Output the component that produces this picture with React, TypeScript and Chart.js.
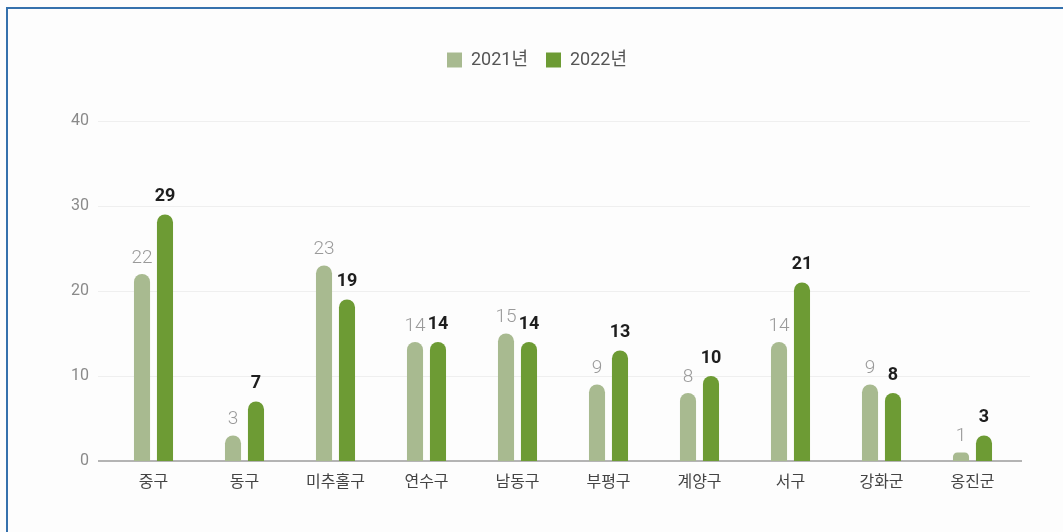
import React, { useEffect, useRef } from 'react';
import { Chart, registerables } from 'chart.js';

Chart.register(...registerables);

const categories = ['중구', '동구', '미추홀구', '연수구', '남동구', '부평구', '계양구', '서구', '강화군', '옹진군'];
const values2021 = [22, 3, 23, 14, 15, 9, 8, 14, 9, 1];
const values2022 = [29, 7, 19, 14, 14, 13, 10, 21, 8, 3];
const seriesLabels = ['2021년', '2022년'];
const yMin = 0;
const yMax = 40;
const yStep = 10;

const COLOR_2021 = '#a8ba90';
const COLOR_2022 = '#6d9b34';
const NUM_FONT = "Roboto, 'Noto Sans CJK KR', sans-serif";
const KR_FONT = "'Noto Sans CJK KR', Roboto, sans-serif";

const gridPlugin = {
  id: 'customGrid',
  beforeDatasetsDraw(chart: any) {
    const { ctx, chartArea, scales } = chart;
    const y = scales.y;
    ctx.save();
    y.ticks.forEach((t: any) => {
      const py = Math.round(y.getPixelForValue(t.value));
      if (t.value === 0) {
        ctx.strokeStyle = '#b4b4b4';
        ctx.lineWidth = 2;
        ctx.beginPath();
        ctx.moveTo(chartArea.left - 10, py);
        ctx.lineTo(chartArea.right + 4, py);
        ctx.stroke();
      } else {
        ctx.strokeStyle = '#efefef';
        ctx.lineWidth = 1;
        ctx.beginPath();
        ctx.moveTo(chartArea.left - 10, py + 0.5);
        ctx.lineTo(chartArea.right + 12, py + 0.5);
        ctx.stroke();
      }
    });
    ctx.restore();
  },
};

const labelPlugin = {
  id: 'valueLabels',
  afterDatasetsDraw(chart: any) {
    const { ctx } = chart;
    ctx.save();
    ctx.textAlign = 'center';
    ctx.textBaseline = 'middle';
    chart.data.datasets.forEach((ds: any, di: number) => {
      const meta = chart.getDatasetMeta(di);
      meta.data.forEach((el: any, i: number) => {
        const v = ds.data[i];
        if (di === 0) {
          ctx.font = `300 19px ${NUM_FONT}`;
          ctx.fillStyle = '#9a9a9a';
          ctx.fillText(String(v), el.x, el.y - 16);
        } else {
          ctx.font = `700 18px ${NUM_FONT}`;
          ctx.fillStyle = '#1e1e1e';
          ctx.fillText(String(v), el.x, el.y - 18);
        }
      });
    });
    ctx.restore();
  },
};

const legendPlugin = {
  id: 'legendTweak',
  afterInit(chart: any) {
    const lg = chart.legend;
    if (!lg) return;
    const orig = lg.fit.bind(lg);
    lg.fit = function () {
      orig();
      this.height = 88;
    };
  },
  afterLayout(chart: any) {
    const lg = chart.legend;
    if (!lg) return;
    lg.left += 28;
    lg.right += 28;
  },
};

export default function App() {
  const ref = useRef<HTMLCanvasElement | null>(null);

  useEffect(() => {
    if (!ref.current) return;
    const radius = { topLeft: 8, topRight: 8, bottomLeft: 0, bottomRight: 0 };
    const chart = new Chart(ref.current, {
      type: 'bar',
      data: {
        labels: categories,
        datasets: [
          {
            label: seriesLabels[0],
            data: values2021,
            backgroundColor: COLOR_2021,
            borderRadius: radius,
            borderSkipped: false,
            categoryPercentage: 0.505,
            barPercentage: 0.7,
          },
          {
            label: seriesLabels[1],
            data: values2022,
            backgroundColor: COLOR_2022,
            borderRadius: radius,
            borderSkipped: false,
            categoryPercentage: 0.505,
            barPercentage: 0.7,
          },
        ],
      },
      options: {
        responsive: false,
        animation: false,
        devicePixelRatio: 1,
        layout: { padding: { left: 0, right: 45, top: 33, bottom: 31 } },
        plugins: {
          legend: {
            display: true,
            position: 'top',
            labels: {
              boxWidth: 15,
              boxHeight: 15,
              padding: 18,
              color: '#555',
              font: { family: NUM_FONT, size: 18 },
            },
          },
          tooltip: { enabled: false },
          title: { display: false },
        },
        scales: {
          x: {
            grid: { display: false, drawTicks: false },
            border: { display: false },
            ticks: {
              color: '#444',
              padding: 10,
              font: { family: KR_FONT, size: 16 },
            },
            afterFit(scale: any) {
              scale.height = 40;
            },
          },
          y: {
            min: yMin,
            max: yMax,
            grid: { display: false, drawTicks: false },
            border: { display: false },
            ticks: {
              stepSize: yStep,
              color: '#8a8a8a',
              padding: 19,
              font: { family: NUM_FONT, size: 16 },
            },
            afterFit(scale: any) {
              scale.width = 108;
            },
          },
        },
      },
      plugins: [legendPlugin, gridPlugin, labelPlugin],
    } as any);
    return () => chart.destroy();
  }, []);

  return (
    <div
      style={{
        position: 'fixed',
        left: 0,
        top: 0,
        width: 1063,
        height: 532,
        overflow: 'hidden',
        background: '#fdfdfd',
      }}
    >
      <div
        style={{
          position: 'absolute',
          left: 6,
          top: 7,
          width: 2000,
          height: 2000,
          borderTop: '2px solid #3571ad',
          borderLeft: '2px solid #3571ad',
        }}
      />
      <canvas
        ref={ref}
        width={1063}
        height={532}
        style={{ position: 'absolute', left: 0, top: 0, width: 1063, height: 532 }}
      />
    </div>
  );
}
